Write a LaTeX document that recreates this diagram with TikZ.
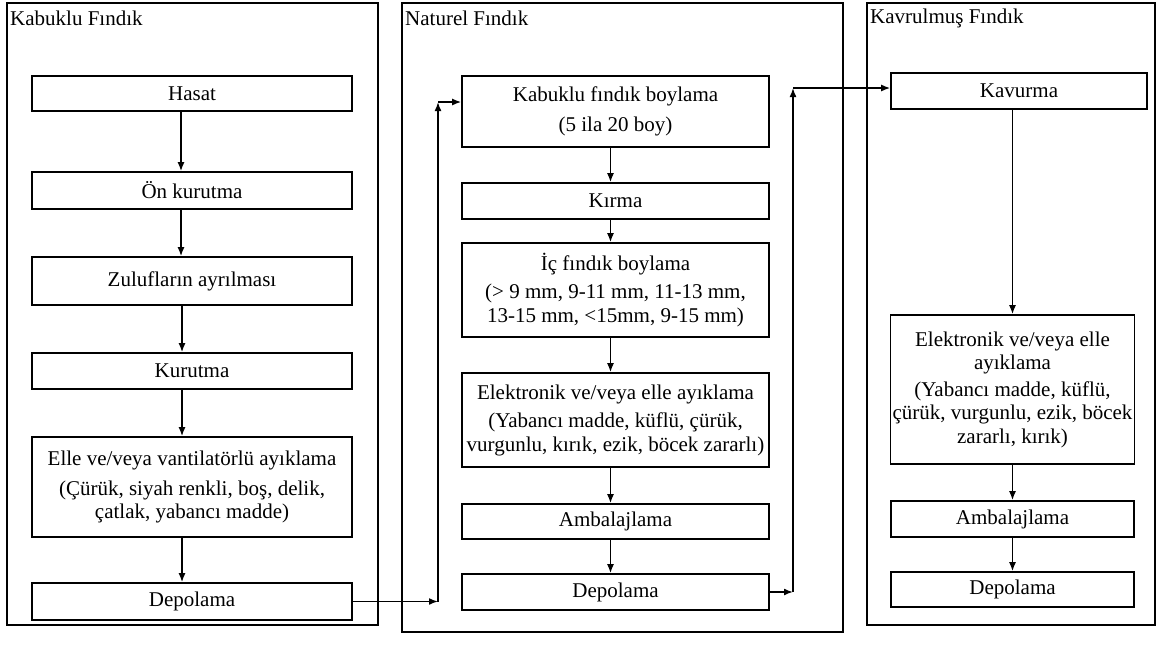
\documentclass[tikz,border=0pt]{standalone}
\usepackage{fontspec}
\setmainfont{Liberation Serif}
\usepackage{tikz}
\usetikzlibrary{arrows.meta}
\tikzset{
    base/.style={
        font=\fontsize{21}{23.5}\selectfont,
        align=center
    },
    panel/.style={
        draw,
        line width=1.7pt
    },
    heading/.style={
        base,
        anchor=west,
        inner sep=0pt
    },
    process/.style={
        base,
        rectangle,
        draw,
        line width=1.6pt,
        inner sep=2pt
    },
    leftbox/.style={process, minimum width=320pt},
    midbox/.style={process, minimum width=307pt},
    rightbox/.style={process, minimum width=243pt},
    flow/.style={
        -{Latex[length=9pt, width=7pt]},
        line width=1.6pt
    }
}

\begin{document}
\begin{tikzpicture}[x=1pt, y=-1pt]
  \useasboundingbox (0,0) rectangle (1158,645);

  % Panels
  \draw[panel] (7,3) rectangle (378,625);
  \draw[panel] (402,3) rectangle (843,632);
  \draw[panel] (867,3) rectangle (1155,625);
  \node[heading] (tK) at (10,18) {Kabuklu Fındık};
  \node[heading] (tN) at (405,18) {Naturel Fındık};
  \node[heading] (tR) at (870,18) {Kavrulmuş Fındık};

  % Kabuklu
  \node[leftbox, minimum height=35pt] (hasat) at (192,93.5) {Hasat};
  \node[leftbox, minimum height=37pt] (onkur) at (192,190.5) {Ön kurutma};
  \node[leftbox, minimum height=48pt] (zuluf) at (192,281) {Zulufların ayrılması};
  \node[leftbox, minimum height=36pt] (kurut) at (192,371) {Kurutma};
  \node[leftbox, minimum height=100pt] (elle) at (192,487) {Elle ve/veya vantilatörlü ayıklama\\[6pt]
      (Çürük, siyah renkli, boş, delik,\\ çatlak, yabancı madde)};
  \node[leftbox, minimum height=37pt] (depK) at (192,601.5) {Depolama};

  \draw[flow] ([xshift=-11pt]hasat.south) -- ([xshift=-11pt]onkur.north);
  \draw[flow] ([xshift=-11pt]onkur.south) -- ([xshift=-11pt]zuluf.north);
  \draw[flow] ([xshift=-10pt]zuluf.south) -- ([xshift=-10pt]kurut.north);
  \draw[flow] ([xshift=-10pt]kurut.south) -- ([xshift=-10pt]elle.north);
  \draw[flow] ([xshift=-10pt]elle.south) -- ([xshift=-10pt]depK.north);

  % Naturel
  \node[midbox, minimum height=71pt] (kabBoy) at (615.5,111.5) {Kabuklu fındık boylama\\[7pt] (5 ila 20 boy)};
  \node[midbox, minimum height=36pt] (kirma) at (615.5,201) {Kırma};
  \node[midbox, minimum height=94pt] (icBoy) at (615.5,290) {İç fındık boylama\\[5pt]
      (> 9 mm, 9-11 mm, 11-13 mm,\\ 13-15 mm, <15mm, 9-15 mm)};
  \node[midbox, minimum height=94pt] (ayikN) at (615.5,420) {Elektronik ve/veya elle ayıklama\\[5pt]
      (Yabancı madde, küflü, çürük,\\ vurgunlu, kırık, ezik, böcek zararlı)};
  \node[midbox, minimum height=35pt] (ambN) at (615.5,521.5) {Ambalajlama};
  \node[midbox, minimum height=36pt] (depN) at (615.5,592) {Depolama};

  \draw[flow] ([xshift=-5pt]kabBoy.south) -- ([xshift=-5pt]kirma.north);
  \draw[flow] ([xshift=-5pt]kirma.south) -- ([xshift=-5pt]icBoy.north);
  \draw[flow] ([xshift=-5pt]icBoy.south) -- ([xshift=-5pt]ayikN.north);
  \draw[flow] ([xshift=-5pt]ayikN.south) -- ([xshift=-5pt]ambN.north);
  \draw[flow] ([xshift=-5pt]ambN.south) -- ([xshift=-5pt]depN.north);

  % Kavrulmus
  \node[process, minimum width=256pt, minimum height=36pt] (kavur) at (1019,91) {Kavurma};
  \node[rightbox, minimum height=149pt] (ayikR) at (1012.5,389.5) {Elektronik ve/veya elle\\ ayıklama\\[3pt]
      (Yabancı madde, küflü,\\ çürük, vurgunlu, ezik, böcek\\ zararlı, kırık)};
  \node[rightbox, minimum height=36pt] (ambR) at (1012.5,519) {Ambalajlama};
  \node[rightbox, minimum height=35pt] (depR) at (1012.5,589.5) {Depolama};

  \draw[flow] (kavur.south -| ayikR.north) -- (ayikR.north);
  \draw[flow] (ayikR.south) -- (ambR.north);
  \draw[flow] (ambR.south) -- (depR.north);

  % Transfers between panels
  \coordinate (kL) at (438,102);
  \coordinate (kM) at (793,88);
  \draw[flow] (depK.east) -- (depK.east -| kL);
  \draw[flow] (depK.east -| kL) -- (kL);
  \draw[flow] (kL) -- (kL -| kabBoy.west);
  \draw[flow] (depN.east) -- (depN.east -| kM);
  \draw[flow] (depN.east -| kM) -- (kM);
  \draw[flow] (kM) -- (kM -| kavur.west);
\end{tikzpicture}
\end{document}
